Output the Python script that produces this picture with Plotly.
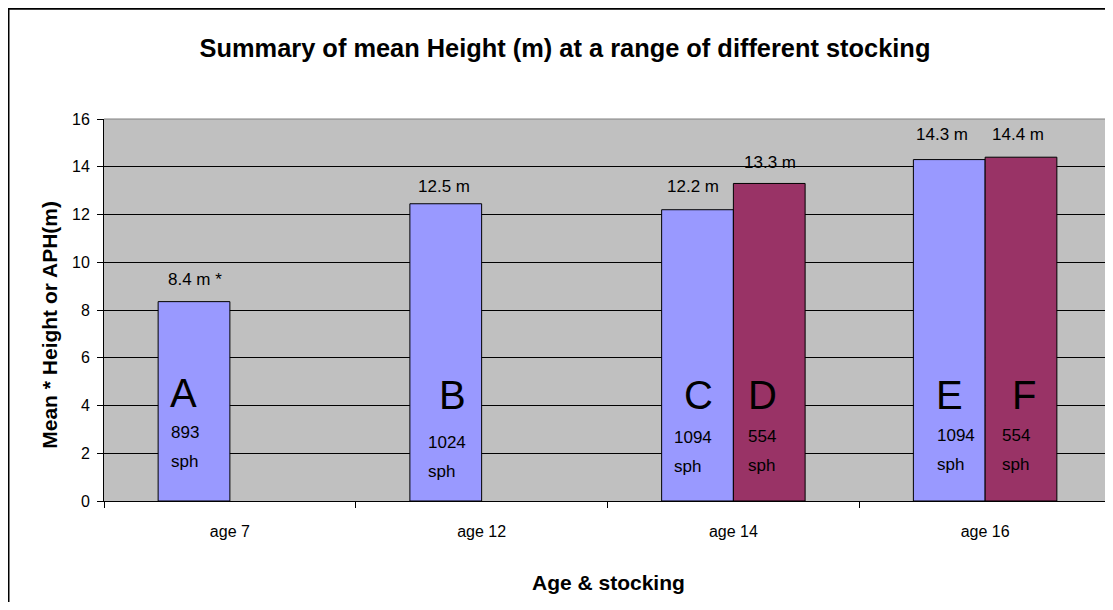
import plotly.graph_objects as go

# ---------------- data ----------------
categories = ["age 7", "age 12", "age 14", "age 16"]
series1_heights = [8.35, 12.45, 12.2, 14.3]        # blue bars (A, B, C, E)
series2_heights = [None, None, 13.3, 14.4]          # maroon bars (D, F)
series1_value_labels = ["8.4 m *", "12.5 m", "12.2 m", "14.3 m"]
series2_value_labels = [None, None, "13.3 m", "14.4 m"]
series1_letters = ["A", "B", "C", "E"]
series2_letters = [None, None, "D", "F"]
series1_stocking = ["893", "1024", "1094", "1094"]
series2_stocking = [None, None, "554", "554"]
y_ticks = [0, 2, 4, 6, 8, 10, 12, 14, 16]

# ---------------- layout geometry ----------------
# The page body has an 8px margin, so the figure sits at page (8, 8).
OFF = 8
W, H = 1105, 594
# plot area, in page pixels
PL, PR, PT, PB = 104, 1111, 119, 501.5
FONT = "Liberation Sans, Arial, sans-serif"
BLUE = "#9999FF"
MAROON = "#993366"


def py2paper(py):
    return (PB - py) / (PB - PT)


def px2paper(px):
    return (px - PL) / (PR - PL)


fig = go.Figure()
fig.add_trace(go.Bar(x=categories, y=series1_heights, name="s1",
                     marker=dict(color=BLUE, line=dict(color="black", width=1))))
fig.add_trace(go.Bar(x=categories, y=series2_heights, name="s2",
                     marker=dict(color=MAROON, line=dict(color="black", width=1))))

ann = []
# value labels above bars: (xshift, yshift) per label
s1_val_off = [(-35, 22), (-38, 17), (-40, 23), (-43, 25)]
s2_val_off = [None, None, (37, 21), (33, 23)]
for i, c in enumerate(categories):
    if series1_value_labels[i]:
        dx, dy = s1_val_off[i]
        ann.append(dict(x=c, y=series1_heights[i], xref="x", yref="y", text=series1_value_labels[i],
                        showarrow=False, xshift=dx, yshift=dy, yanchor="middle",
                        font=dict(size=17, color="black", family=FONT)))
    if series2_value_labels[i]:
        dx, dy = s2_val_off[i]
        ann.append(dict(x=c, y=series2_heights[i], xref="x", yref="y", text=series2_value_labels[i],
                        showarrow=False, xshift=dx, yshift=dy, yanchor="middle",
                        font=dict(size=17, color="black", family=FONT)))

# big letters inside bars: (xshift, page y)
s1_let_pos = [(-46, 393), (-29, 395), (-35, 395), (-36, 395)]
s2_let_pos = [None, None, (29, 395), (39, 395)]
# stocking labels: (xshift of left edge, number y, sph y)
s1_st_pos = [(-61, 433, 462), (-56, 443, 472), (-61, 438, 467), (-50, 436, 465)]
s2_st_pos = [None, None, (13, 437, 466), (15, 436, 465)]

for letters, lpos, stock, spos in [(series1_letters, s1_let_pos, series1_stocking, s1_st_pos),
                                   (series2_letters, s2_let_pos, series2_stocking, s2_st_pos)]:
    for i, c in enumerate(categories):
        if letters[i]:
            dx, py = lpos[i]
            ann.append(dict(x=c, y=py2paper(py), xref="x", yref="paper", text=letters[i],
                            showarrow=False, xshift=dx, yanchor="middle", xanchor="center",
                            font=dict(size=40, color="black", family=FONT)))
        if stock[i]:
            dx, py1, py2 = spos[i]
            ann.append(dict(x=c, y=py2paper(py1), xref="x", yref="paper", text=stock[i],
                            showarrow=False, xshift=dx, yanchor="middle", xanchor="left",
                            font=dict(size=17, color="black", family=FONT)))
            ann.append(dict(x=c, y=py2paper(py2), xref="x", yref="paper", text="sph",
                            showarrow=False, xshift=dx, yanchor="middle", xanchor="left",
                            font=dict(size=17, color="black", family=FONT)))

# axis titles
ann.append(dict(x=px2paper(50), y=py2paper(325), xref="paper", yref="paper",
                text="Mean * Height or APH(m)", textangle=-90, showarrow=False,
                xanchor="center", yanchor="middle",
                font=dict(size=21, color="black", family=FONT, weight="bold")))
ann.append(dict(x=px2paper(608), y=py2paper(583), xref="paper", yref="paper",
                text="Age & stocking", showarrow=False, xanchor="center", yanchor="middle",
                font=dict(size=21, color="black", family=FONT, weight="bold")))

shapes = [
    # outer chart border (cropped at right / bottom)
    dict(type="rect", xref="paper", yref="paper",
         x0=px2paper(OFF + 0.5), x1=px2paper(OFF + W + 40),
         y0=py2paper(OFF + 0.5), y1=py2paper(OFF + H + 40),
         line=dict(color="black", width=2), fillcolor="rgba(0,0,0,0)", layer="above"),
    # grey plot-area border on top and right
    dict(type="line", xref="paper", yref="paper", x0=0, x1=1, y0=1, y1=1,
         line=dict(color="#808080", width=1), layer="above"),
    dict(type="line", xref="paper", yref="paper", x0=1, x1=1, y0=0, y1=1,
         line=dict(color="#808080", width=1), layer="above"),
]

fig.update_layout(
    width=W, height=H,
    margin=dict(l=PL - OFF, r=OFF + W - PR, t=PT - OFF, b=OFF + H - PB, pad=0),
    paper_bgcolor="white", plot_bgcolor="#C0C0C0",
    barmode="group", bargap=0.43, bargroupgap=0,
    showlegend=False,
    title=dict(text="Summary of mean Height (m) at a range of different stocking",
               x=(565 - OFF) / W, xref="container", xanchor="center",
               y=1 - (48 - OFF) / H, yref="container", yanchor="middle",
               font=dict(size=25.4, color="black", family=FONT, weight="bold")),
    annotations=ann, shapes=shapes,
    font=dict(family=FONT, color="black"),
)
fig.update_xaxes(type="category", showline=True, linecolor="black", linewidth=1,
                 ticks="outside", tickson="boundaries", ticklen=6, tickcolor="black",
                 showgrid=False, tickfont=dict(size=16, color="black", family=FONT),
                 ticklabelstandoff=16, fixedrange=True)
fig.update_yaxes(range=[0, 16], tickvals=y_ticks, showline=True, linecolor="black", linewidth=1,
                 ticks="outside", ticklen=6, tickcolor="black",
                 showgrid=True, gridcolor="black", gridwidth=1, zeroline=False,
                 tickfont=dict(size=16, color="black", family=FONT),
                 ticklabelstandoff=4, fixedrange=True)

fig.write_html("out.html")
